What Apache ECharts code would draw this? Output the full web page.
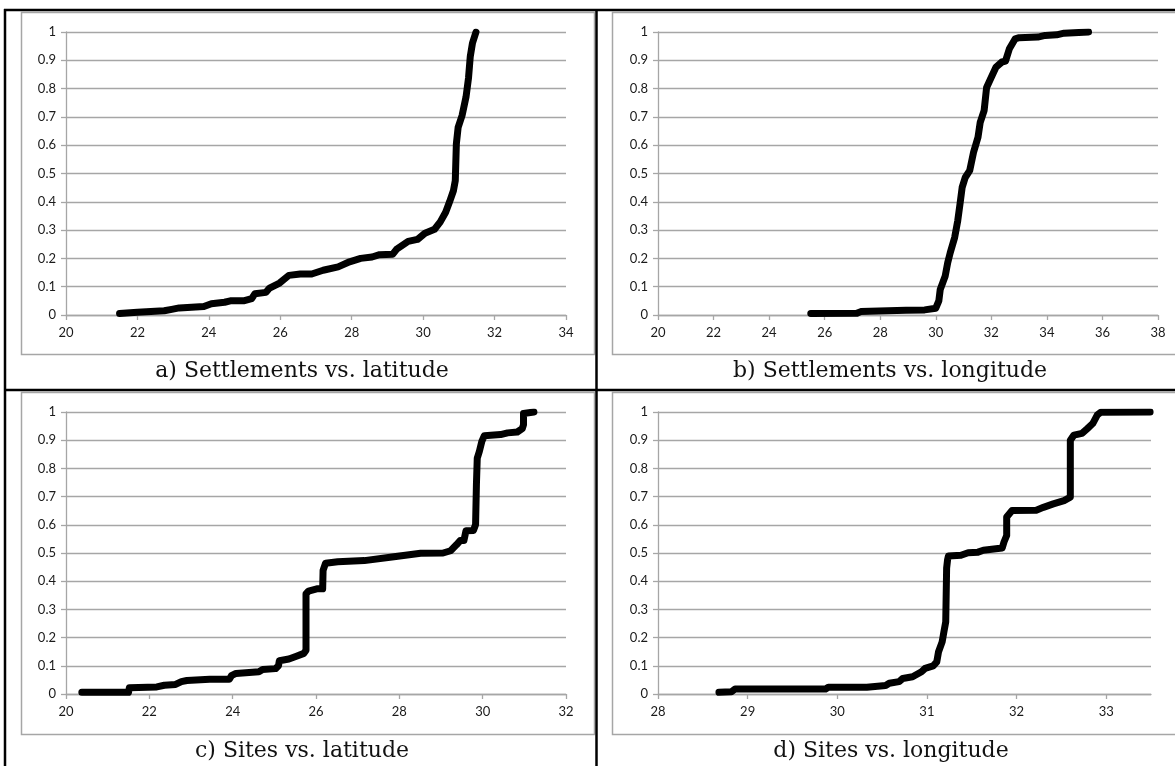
<!DOCTYPE html>
<html>
<head>
<meta charset="utf-8">
<script src="https://cdn.jsdelivr.net/npm/echarts@6/dist/echarts.min.js"></script>
<style>
html,body{margin:0;padding:0;background:#fff;}
#main{width:1175px;height:766px;}
</style>
</head>
<body>
<div id="main"></div>
<script>
// ---- Data ----
// a) Settlements vs. latitude
const latSettle = [21.5,22,22.75,22.96,23.17,23.86,24.07,24.44,24.6,24.97,25.2,25.29,25.6,25.7,25.98,26.24,26.56,26.88,27.2,27.62,27.94,28.25,28.57,28.78,29.15,29.26,29.58,29.84,30.05,30.32,30.48,30.63,30.74,30.85,30.9,30.93,30.98,31.09,31.2,31.27,31.32,31.38,31.48];
const cdfLatSettle = [0.005,0.01,0.015,0.02,0.025,0.03,0.04,0.045,0.05,0.05,0.058,0.075,0.08,0.095,0.113,0.14,0.145,0.145,0.158,0.17,0.188,0.2,0.205,0.213,0.215,0.233,0.26,0.267,0.289,0.303,0.329,0.363,0.4,0.44,0.475,0.605,0.663,0.705,0.77,0.837,0.914,0.96,1.0];
// b) Settlements vs. longitude
const lonSettle = [25.5,27.16,27.3,28.93,29.6,30.0,30.11,30.16,30.34,30.43,30.52,30.68,30.79,30.88,30.95,31.06,31.22,31.36,31.52,31.6,31.74,31.83,31.97,32.17,32.38,32.51,32.65,32.86,33.0,33.67,33.94,34.35,34.62,35.5];
const cdfLonSettle = [0.005,0.006,0.012,0.017,0.018,0.024,0.05,0.09,0.138,0.185,0.22,0.274,0.333,0.398,0.451,0.486,0.51,0.575,0.628,0.681,0.722,0.804,0.834,0.876,0.894,0.897,0.941,0.976,0.98,0.982,0.988,0.99,0.996,1.0];
// c) Sites vs. latitude
const latSites = [20.38,21.5,21.52,22.18,22.36,22.63,22.77,22.9,23.45,23.92,23.97,24.08,24.63,24.72,25.03,25.1,25.12,25.35,25.53,25.71,25.76,25.76,25.82,26.02,26.16,26.17,26.23,26.52,27.16,27.87,28.51,29.05,29.23,29.37,29.46,29.55,29.6,29.78,29.83,29.85,29.87,29.92,29.98,30.04,30.43,30.6,30.83,30.95,30.98,30.98,31.23];
const cdfLatSites = [0.006,0.006,0.022,0.025,0.031,0.034,0.044,0.048,0.052,0.052,0.065,0.073,0.079,0.087,0.09,0.1,0.118,0.124,0.134,0.144,0.155,0.355,0.365,0.373,0.373,0.438,0.464,0.469,0.473,0.487,0.499,0.5,0.508,0.529,0.544,0.544,0.579,0.58,0.601,0.742,0.836,0.86,0.896,0.916,0.92,0.926,0.929,0.941,0.955,0.995,1.0];
// d) Sites vs. longitude
const lonSites = [28.68,28.82,28.86,29.87,29.9,30.33,30.54,30.58,30.69,30.73,30.84,30.94,30.98,31.07,31.11,31.13,31.17,31.19,31.21,31.22,31.23,31.24,31.38,31.46,31.57,31.63,31.84,31.86,31.89,31.89,31.95,32.22,32.3,32.41,32.53,32.6,32.6,32.64,32.73,32.79,32.85,32.9,32.94,33.49];
const cdfLonSites = [0.006,0.008,0.018,0.018,0.024,0.024,0.03,0.038,0.044,0.055,0.061,0.079,0.091,0.1,0.114,0.15,0.185,0.221,0.256,0.446,0.475,0.489,0.492,0.501,0.503,0.51,0.518,0.539,0.562,0.628,0.651,0.652,0.662,0.674,0.686,0.698,0.9,0.918,0.924,0.941,0.959,0.989,0.999,1.0];

const captions = ['a) Settlements vs. latitude','b) Settlements vs. longitude','c) Sites vs. latitude','d) Sites vs. longitude'];
const xRanges = [[20,34,2],[20,38,2],[20,32,2],[28,33.5,1]];
const dTicks = [28,29,30,31,32,33];

// ---- Layout ----
const grids = [
  {left:66, top:32, width:500, height:283},
  {left:658, top:32, width:500, height:283},
  {left:66, top:412, width:500, height:282},
  {left:658, top:412, width:493, height:282}
];
const GRID_COLOR = '#a6a6a6';
const LABEL_FONT = 'Lato, "Open Sans", sans-serif';

function pairs(xs, ys){ return xs.map((x,i)=>[x, ys[i]]); }
const seriesData = [
  pairs(latSettle, cdfLatSettle),
  pairs(lonSettle, cdfLonSettle),
  pairs(latSites, cdfLatSites),
  pairs(lonSites, cdfLonSites)
];

const xAxes = xRanges.map((r,i)=>{
  const ax = {
    type:'value', gridIndex:i, min:r[0], max:r[1], interval:r[2],
    axisLine:{show:true, onZero:false, lineStyle:{color:GRID_COLOR, width:1.3}},
    axisTick:{show:true, inside:false, length:5, lineStyle:{color:GRID_COLOR, width:1.3}},
    axisLabel:{color:'#1a1a1a', fontSize:13, fontFamily:LABEL_FONT, margin:11},
    splitLine:{show:false}
  };
  if(i===3){
    ax.axisLabel.customValues = dTicks;
    ax.axisTick.customValues = dTicks;
  }
  return ax;
});
const yAxes = grids.map((g,i)=>({
  type:'value', gridIndex:i, min:0, max:1, interval:0.1,
  axisLine:{show:true, lineStyle:{color:GRID_COLOR, width:1.3}},
  axisTick:{show:true, inside:false, length:5, lineStyle:{color:GRID_COLOR, width:1.3}},
  axisLabel:{color:'#1a1a1a', fontSize:13, fontFamily:LABEL_FONT, margin:10,
    formatter:v=>String(Math.round(v*10)/10)},
  splitLine:{show:true, lineStyle:{color:GRID_COLOR, width:1.3}}
}));

const series = seriesData.map((d,i)=>({
  type:'line', xAxisIndex:i, yAxisIndex:i, data:d, showSymbol:false, symbol:'none',
  lineStyle:{color:'#000', width:7, cap:'round', join:'round'},
  animation:false, silent:true
}));

// frames and table borders
const frames = [
  {x:21, y:12, w:573, h:342},
  {x:612, y:12, w:620, h:342},
  {x:21, y:392, w:573, h:342},
  {x:612, y:392, w:620, h:342}
];
const graphic = [];
frames.forEach(f=>graphic.push({type:'rect', shape:{x:f.x+0.5, y:f.y+0.5, width:f.w, height:f.h},
  style:{fill:'none', stroke:'#a6a6a6', lineWidth:1.5}, z:-1}));
const blackLines = [
  [5,9,5,766],[596.5,9,596.5,766],[4,10,1175,10],[4,390,1175,390]
];
blackLines.forEach(l=>graphic.push({type:'line', shape:{x1:l[0],y1:l[1],x2:l[2],y2:l[3]},
  style:{stroke:'#000', lineWidth:2.5}}));
const capPos = [[302,371],[890,371],[302,751],[891,751]];
captions.forEach((c,i)=>graphic.push({type:'text', x:capPos[i][0], y:capPos[i][1],
  style:{text:c, fill:'#111', font:'22px "DejaVu Serif", serif', align:'center', verticalAlign:'middle'}}));

const chart = echarts.init(document.getElementById('main'), null, {renderer:'canvas'});
chart.setOption({
  animation:false,
  grid: grids.map(g=>Object.assign({containLabel:false}, g)),
  xAxis: xAxes,
  yAxis: yAxes,
  series: series,
  graphic: graphic
});
</script>
</body>
</html>
